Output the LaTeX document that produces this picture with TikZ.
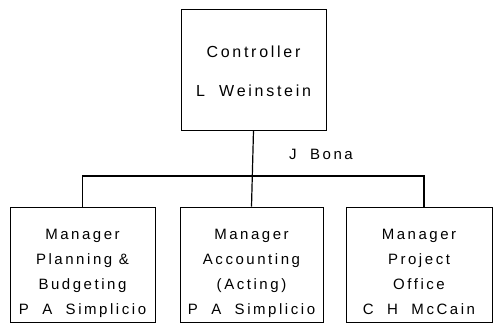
\documentclass[tikz,border=0pt]{standalone}
\usepackage{fontspec}
\setmainfont{Liberation Sans}[LetterSpace=17]
\usetikzlibrary{positioning}
% text lines of a box, lowered a little inside it
\newcommand{\boxlines}[2]{\raisebox{-#1}[\height][\depth]{\begin{tabular}{@{}c@{}}#2\end{tabular}}}
\tikzset{
  unit/.style={draw,thick,inner sep=0pt,font=\fontsize{15}{25}\selectfont},
  bus/.style={very thick}
}
\begin{document}
\begin{tikzpicture}[x=1pt,y=-1pt]
  \useasboundingbox (0,0) rectangle (495,328);
  % head
  \node[unit,minimum width=145,minimum height=121,font=\fontsize{16}{39}\selectfont] (ctrl) at (253.5,69.5) {\boxlines{0pt}{Controller\\L\ \ Weinstein}};
  % managers
  \node[unit,minimum width=145,minimum height=115] (plan) at (82.5,264.5) {\boxlines{8pt}{Manager\\Planning \&\\Budgeting\\P\ \ A\ \ Simplicio}};
  \node[unit,minimum width=143,minimum height=115] (acct) at (251.5,264.5) {\boxlines{8pt}{Manager\\Accounting\\(Acting)\\P\ \ A\ \ Simplicio}};
  \node[unit,minimum width=146,minimum height=115] (proj) at (419,264.5) {\boxlines{8pt}{Manager\\Project\\Office\\C\ \ H\ \ McCain}};
  \coordinate (bus) at (253,176);
  \node[font=\fontsize{15}{16}\selectfont] (bona) at (321,154) {J\ \ Bona};
  % lines
  \draw[bus] (ctrl.south) -- (acct.north);
  \draw[bus] (plan.north) |- (bus) -| ([xshift=5]proj.north);
\end{tikzpicture}
\end{document}
